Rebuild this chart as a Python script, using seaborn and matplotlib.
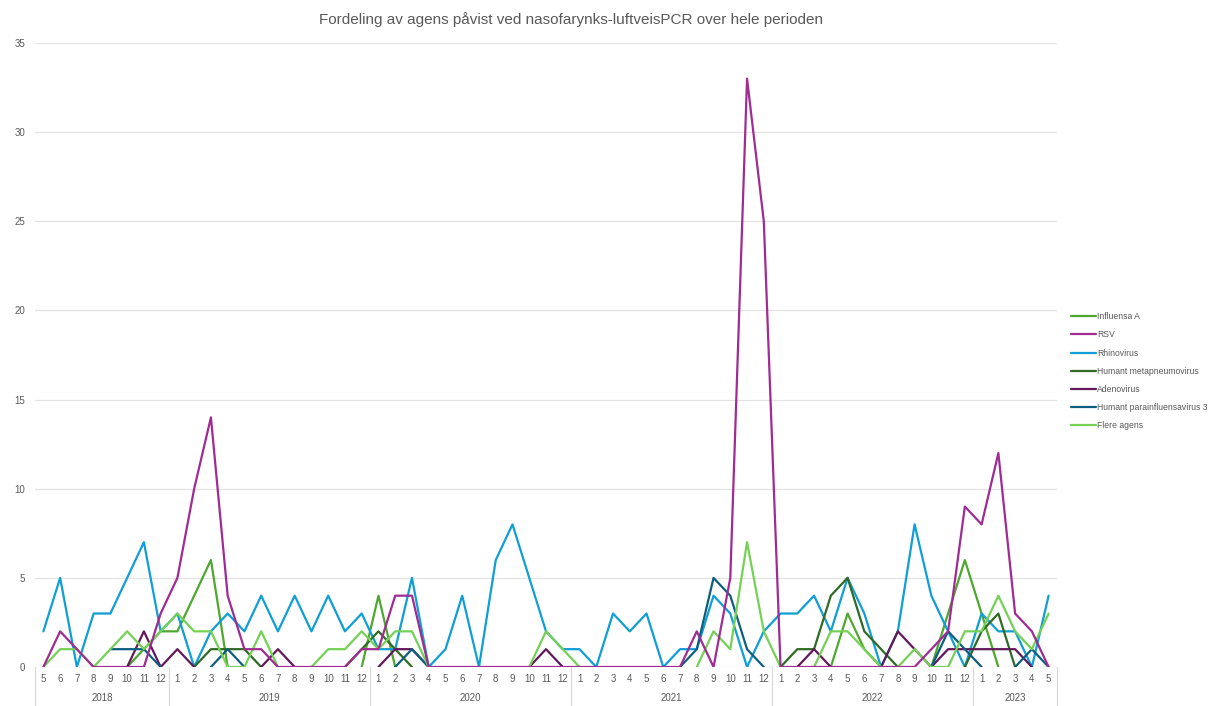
import numpy as np
import pandas as pd
import matplotlib
matplotlib.use("Agg")
import matplotlib.pyplot as plt
from matplotlib.lines import Line2D
import seaborn as sns

NA = np.nan

# x-akse: år og måneder (mai 2018 - mai 2023)
years = ["2018", "2019", "2020", "2021", "2022", "2023"]
months_by_year = [
    [5, 6, 7, 8, 9, 10, 11, 12],
    [1, 2, 3, 4, 5, 6, 7, 8, 9, 10, 11, 12],
    [1, 2, 3, 4, 5, 6, 7, 8, 9, 10, 11, 12],
    [1, 2, 3, 4, 5, 6, 7, 8, 9, 10, 11, 12],
    [1, 2, 3, 4, 5, 6, 7, 8, 9, 10, 11, 12],
    [1, 2, 3, 4, 5],
]

# antall påvist per måned (NA = tom celle)
influensa_a = ([NA, NA, NA, NA, NA, 0, 1, 2]
               + [2, 4, 6, 0, NA, NA, NA, NA, NA, NA, NA, 0]
               + [4, 0, NA, NA, NA, NA, NA, NA, NA, NA, NA, NA]
               + [NA, NA, NA, NA, NA, NA, NA, NA, NA, NA, NA, NA]
               + [NA, NA, NA, 0, 3, 1, 0, NA, NA, 0, 3, 6]
               + [3, 0, NA, NA, NA])
rsv = ([0, 2, 1, 0, 0, 0, 0, 3]
       + [5, 10, 14, 4, 1, 1, 0, 0, 0, 0, 0, 1]
       + [1, 4, 4, 0, 0, 0, 0, 0, 0, 0, 0, 0]
       + [0, 0, 0, 0, 0, 0, 0, 2, 0, 5, 33, 25]
       + [0, 0, 0, 0, 0, 0, 0, 0, 0, 1, 2, 9]
       + [8, 12, 3, 2, 0])
rhinovirus = ([2, 5, 0, 3, 3, 5, 7, 2]
              + [3, 0, 2, 3, 2, 4, 2, 4, 2, 4, 2, 3]
              + [1, 1, 5, 0, 1, 4, 0, 6, 8, 5, 2, 1]
              + [1, 0, 3, 2, 3, 0, 1, 1, 4, 3, 0, 2]
              + [3, 3, 4, 2, 5, 3, 0, 2, 8, 4, 2, 0]
              + [3, 2, 2, 0, 4])
metapneumovirus = ([NA, NA, NA, NA, NA, NA, NA, NA]
                   + [NA, 0, 1, 1, 1, 0, NA, NA, NA, NA, 0, 1]
                   + [2, 1, 0, NA, NA, NA, NA, NA, NA, NA, NA, NA]
                   + [NA, NA, NA, NA, NA, NA, NA, NA, NA, NA, NA, NA]
                   + [0, 1, 1, 4, 5, 2, 1, 0, NA, NA, NA, 0]
                   + [2, 3, 0, NA, NA])
adenovirus = ([NA, NA, NA, NA, NA, 0, 2, 0]
              + [1, 0, NA, NA, NA, 0, 1, 0, NA, NA, NA, NA]
              + [0, 1, 1, 0, NA, NA, NA, NA, NA, 0, 1, 0]
              + [NA, NA, NA, NA, NA, NA, NA, NA, NA, NA, NA, NA]
              + [NA, 0, 1, 0, NA, NA, 0, 2, 1, 0, 1, 1]
              + [1, 1, 1, 0, NA])
parainfluensa3 = ([NA, NA, NA, NA, 1, 1, 1, 0]
                  + [NA, NA, 0, 1, 0, NA, NA, NA, NA, NA, NA, NA]
                  + [NA, 0, 1, 0, NA, NA, NA, NA, NA, NA, NA, NA]
                  + [NA, NA, NA, NA, NA, NA, 0, 1, 5, 4, 1, 0]
                  + [NA, NA, NA, NA, NA, NA, NA, NA, NA, 0, 2, 1]
                  + [0, NA, 0, 1, 0])
flere_agens = ([0, 1, 1, 0, 1, 2, 1, 2]
               + [3, 2, 2, 0, 0, 2, 0, NA, 0, 1, 1, 2]
               + [1, 2, 2, 0, NA, NA, NA, NA, NA, 0, 2, 1]
               + [0, NA, NA, NA, NA, NA, NA, 0, 2, 1, 7, 2]
               + [0, NA, 0, 2, 2, 1, 0, 0, 1, 0, 0, 2]
               + [2, 4, 2, 1, 3])

series_names = ["Influensa A", "RSV", "Rhinovirus", "Humant metapneumovirus",
                "Adenovirus", "Humant parainfluensavirus 3", "Flere agens"]
series_values = [influensa_a, rsv, rhinovirus, metapneumovirus,
                 adenovirus, parainfluensa3, flere_agens]
colors = ["#4EA72E", "#A02B93", "#0F9ED5", "#2F6B24",
          "#62195A", "#0E5E80", "#74D155"]

month_labels = [str(m) for ms in months_by_year for m in ms]

# lang tabell, med segment-id slik at tomme celler gir brudd i linja
rows = []
seg = 0
for name, vals in zip(series_names, series_values):
    prev_nan = True
    for i, v in enumerate(vals):
        if np.isnan(v):
            prev_nan = True
            continue
        if prev_nan:
            seg += 1
            prev_nan = False
        rows.append({"serie": name, "x": i, "antall": v, "seg": seg})
df = pd.DataFrame(rows)

sns.set_style("white")
plt.rcParams['font.family'] = ['Liberation Sans', 'DejaVu Sans']

fig = plt.figure(figsize=(12.14, 7.06), dpi=100)
ax = fig.add_axes([35 / 1214, 39 / 706, 1022 / 1214, 624 / 706])

for name, col in zip(series_names, colors):
    sub = df[df["serie"] == name]
    sns.lineplot(data=sub, x="x", y="antall", units="seg", estimator=None,
                 color=col, linewidth=1.6, ax=ax, legend=False,
                 zorder=4 if name == "RSV" else 3)

ax.set_xlim(-0.5, len(month_labels) - 0.5)
ax.set_ylim(0, 35)
ax.set_yticks(range(0, 36, 5))
ax.set_xticks(range(len(month_labels)))
ax.set_xticklabels(month_labels)
ax.set_xlabel("")
ax.set_ylabel("")
ax.grid(axis="y", color="#e3e3e3", linewidth=0.9)
ax.grid(axis="x", visible=False)
ax.set_axisbelow(True)
ax.tick_params(axis="both", length=0, labelsize=7, colors="#595959")
ax.tick_params(axis="x", pad=5)
ax.tick_params(axis="y", pad=7)
for s in ax.spines.values():
    s.set_visible(False)

# årsgrupper under månedene
trans = ax.get_xaxis_transform()
start = 0
bounds = [-0.5]
for yr, ms in zip(years, months_by_year):
    end = start + len(ms)
    ax.text((start + end - 1) / 2, -0.049, yr, transform=trans, ha="center",
            va="center", fontsize=7, color="#595959")
    bounds.append(end - 0.5)
    start = end
for b in bounds:
    ax.plot([b, b], [0, -0.0625], transform=trans, color="#d9d9d9",
            linewidth=0.9, clip_on=False)

fig.text(571 / 1214, 1 - 20 / 706,
         "Fordeling av agens påvist ved nasofarynks-luftveisPCR over hele perioden",
         ha="center", va="center", fontsize=11, color="#595959")

handles = [Line2D([0], [0], color=c, linewidth=1.6) for c in colors]
fig.legend(handles, series_names, loc="upper left",
           bbox_to_anchor=(1068 / 1214, 1 - 309 / 706), frameon=False,
           fontsize=6.2, labelcolor="#595959", handlelength=2.8,
           handletextpad=0.2, labelspacing=1.05, borderaxespad=0)

fig.savefig("out.png", dpi=100)
